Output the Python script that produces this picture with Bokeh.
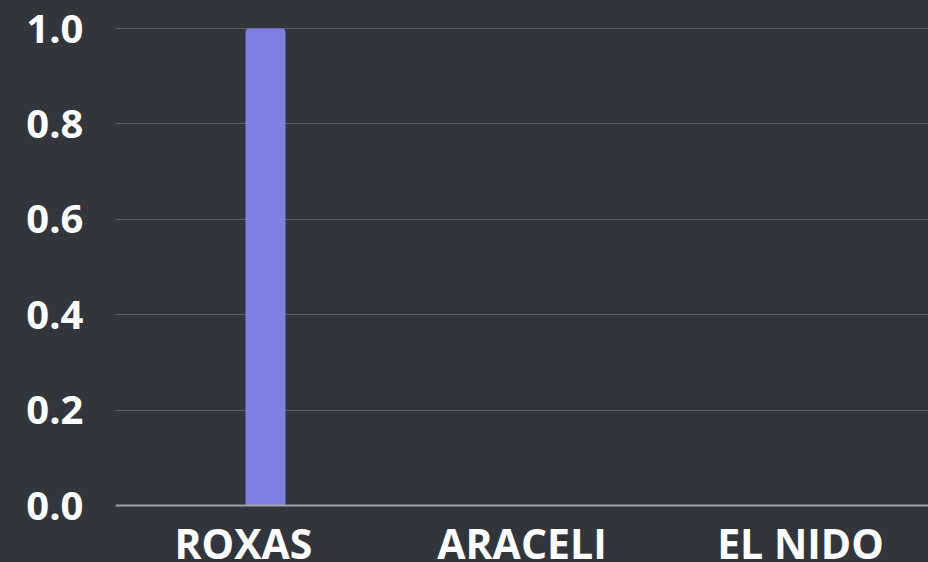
from bokeh.plotting import figure
from bokeh.models import Range1d, FixedTicker, NumeralTickFormatter, ColumnDataSource
from bokeh.transform import dodge
from bokeh.embed import file_html
from bokeh.resources import INLINE

# data
categories = ["ROXAS", "ARACELI", "EL NIDO"]
values = [1.0, 0.0, 0.0]
y_ticks = [0.0, 0.2, 0.4, 0.6, 0.8, 1.0]

BG = "#32353c"
BAR = "#7f7fe6"

x_pos = [i + 0.5 for i in range(len(categories))]
src = ColumnDataSource(dict(x=x_pos, top=values, cat=categories))

p = figure(width=928, height=562, output_backend="svg", toolbar_location=None,
           x_range=Range1d(0.0404, 2.9596), y_range=Range1d(-0.1195, 1.021),
           min_border_left=115, min_border_right=0, min_border_top=18, min_border_bottom=0)

p.background_fill_color = BG
p.border_fill_color = BG
p.outline_line_color = None
p.styles = {"background-color": BG}

p.vbar(x=dodge("x", 0.079, range=p.x_range), top="top", bottom=0, width=0.1436,
       source=src, fill_color=BAR, line_color=None, border_radius=(4, 4, 0, 0))

# x axis pinned at zero
xa = p.xaxis[0]
xa.fixed_location = 0
xa.ticker = FixedTicker(ticks=x_pos)
xa.major_label_overrides = {x: c for x, c in zip(x_pos, categories)}
xa.major_label_text_font = "Open Sans"
xa.major_label_text_font_style = "bold"
xa.major_label_text_font_size = "41px"
xa.major_label_text_color = "white"
xa.major_label_standoff = 3
xa.axis_line_color = "#a3a4a8"
xa.axis_line_width = 2
xa.major_tick_line_color = None
xa.minor_tick_line_color = None

ya = p.yaxis[0]
ya.ticker = FixedTicker(ticks=y_ticks)
ya.formatter = NumeralTickFormatter(format="0.0")
ya.major_label_text_font = "Open Sans"
ya.major_label_text_font_style = "bold"
ya.major_label_text_font_size = "40px"
ya.major_label_text_color = "white"
ya.major_label_standoff = 26
ya.axis_line_color = None
ya.major_tick_line_color = None
ya.minor_tick_line_color = None

p.xgrid.grid_line_color = None
p.ygrid.grid_line_color = "#5a5c61"
p.ygrid.grid_line_width = 1

open("out.html", "w").write(file_html(p, INLINE))
